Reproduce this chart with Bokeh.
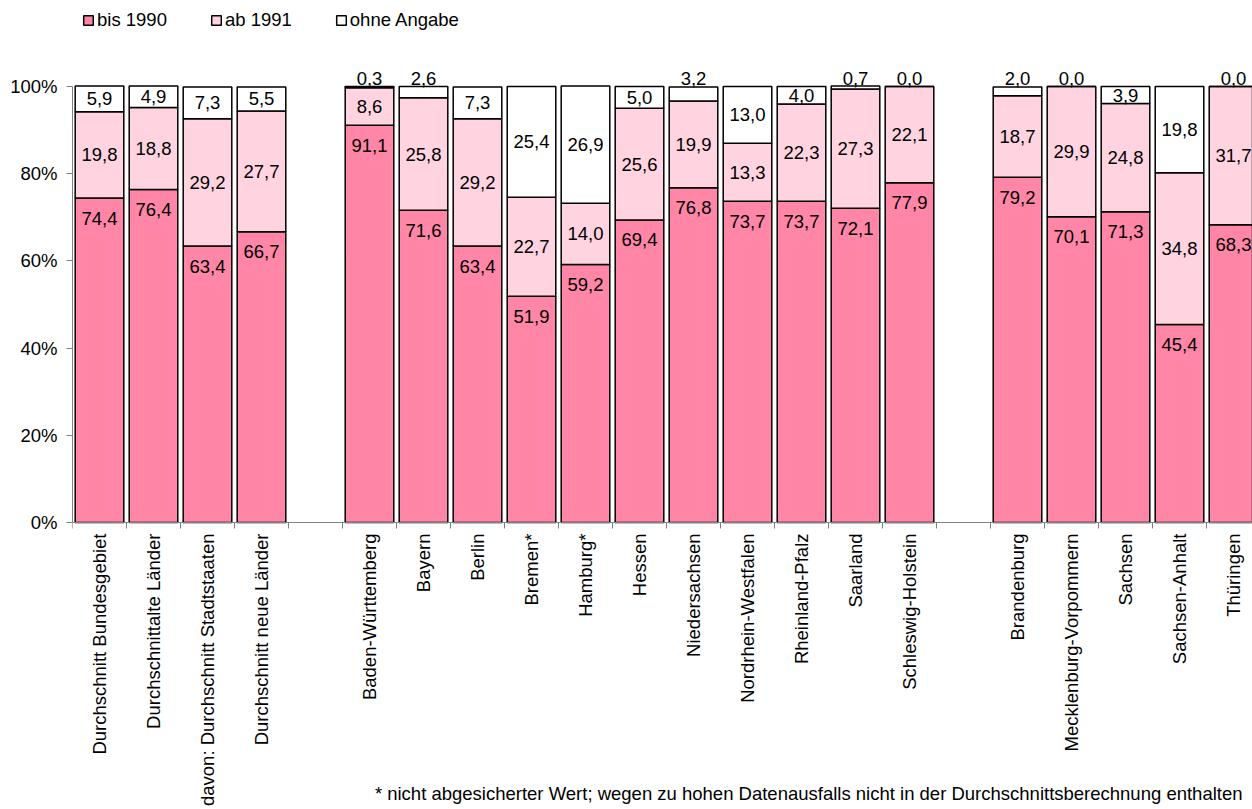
import math
from bokeh.plotting import figure
from bokeh.models import (ColumnDataSource, Range1d, FixedTicker, PrintfTickFormatter,
                          Legend, LegendItem)
from bokeh.core.properties import value
from bokeh.embed import file_html
from bokeh.resources import INLINE

# ---------------- data ----------------
group_avg = ["Durchschnitt Bundesgebiet", "Durchschnittalte Länder",
             "davon: Durchschnitt Stadtstaaten", "Durchschnitt neue Länder"]
group_west = ["Baden-Württemberg", "Bayern", "Berlin", "Bremen*", "Hamburg*", "Hessen",
              "Niedersachsen", "Nordrhein-Westfalen", "Rheinland-Pfalz", "Saarland",
              "Schleswig-Holstein"]
group_east = ["Brandenburg", "Mecklenburg-Vorpommern", "Sachsen", "Sachsen-Anhalt", "Thüringen"]

bis_1990 = [74.4, 76.4, 63.4, 66.7,
            91.1, 71.6, 63.4, 51.9, 59.2, 69.4, 76.8, 73.7, 73.7, 72.1, 77.9,
            79.2, 70.1, 71.3, 45.4, 68.3]
ab_1991 = [19.8, 18.8, 29.2, 27.7,
           8.6, 25.8, 29.2, 22.7, 14.0, 25.6, 19.9, 13.3, 22.3, 27.3, 22.1,
           18.7, 29.9, 24.8, 34.8, 31.7]
ohne_angabe = [5.9, 4.9, 7.3, 5.5,
               0.3, 2.6, 7.3, 25.4, 26.9, 5.0, 3.2, 13.0, 4.0, 0.7, 0.0,
               2.0, 0.0, 3.9, 19.8, 0.0]

y_ticks = [0, 20, 40, 60, 80, 100]
series_labels = ["bis 1990", "ab 1991", "ohne Angabe"]
series_colors = ["#FF86A7", "#FFD4E0", "#FFFFFF"]
footnote = ("* nicht abgesicherter Wert; wegen zu hohen Datenausfalls nicht in der "
            "Durchschnittsberechnung enthalten")

FONT = "Liberation Sans"
FS = "18.5px"

# ---------------- positions (one empty slot between groups) ----------------
groups = [group_avg, group_west, group_east]
names, xs = [], []
for gi, g in enumerate(groups):
    for nm in g:
        xs.append(len(names) + gi)
        names.append(nm)
n_slots = len(names) + len(groups) - 1

def fmt(v):
    return f"{v:.1f}".replace(".", ",")

src = ColumnDataSource(dict(x=xs, bis=bis_1990, ab=ab_1991, ohne=ohne_angabe))

# layout: frame spans page x 72..1252, y 8..809; 0% at y=522, 100% at y=86
PX_PER_UNIT = 4.36
SLOT_PX = 54.0
W, H = 1252, 809
LEFT, TOP = 72, 8
ZERO_Y = 522
p = figure(width=W, height=H, output_backend="svg", toolbar_location=None,
           x_range=Range1d(-0.5, -0.5 + (W - LEFT) / SLOT_PX),
           y_range=Range1d(-(H - ZERO_Y) / PX_PER_UNIT, (ZERO_Y - TOP) / PX_PER_UNIT),
           min_border_left=LEFT, min_border_right=0, min_border_top=TOP, min_border_bottom=0)
p.outline_line_color = None
p.xgrid.visible = False
p.ygrid.visible = False

rs = p.vbar_stack(["bis", "ab", "ohne"], x="x", width=0.9, source=src,
                  fill_color=series_colors, line_color="black", line_width=1.5)

# value labels
lab_bis = dict(x=xs, y=bis_1990, t=[fmt(v) for v in bis_1990])
lab_ab = dict(x=xs, y=[a + b / 2 for a, b in zip(bis_1990, ab_1991)], t=[fmt(v) for v in ab_1991])
in_x, in_y, in_t, out_x, out_y, out_t = [], [], [], [], [], []
for x, a, b, c in zip(xs, bis_1990, ab_1991, ohne_angabe):
    if c >= 3.5:
        in_x.append(x); in_y.append(a + b + c / 2); in_t.append(fmt(c))
    else:
        out_x.append(x); out_y.append(a + b + c); out_t.append(fmt(c))

common = dict(text_font=value(FONT), text_font_size=FS, text_color="black",
              text_align="center", text_baseline="middle")
p.text(x="x", y="y", text="t", source=ColumnDataSource(lab_bis), y_offset=20, **common)
p.text(x="x", y="y", text="t", source=ColumnDataSource(lab_ab), **common)
p.text(x=in_x, y=in_y, text=in_t, **common)
p.text(x=out_x, y=out_y, text=out_t, y_offset=-8, **common)

# footnote
p.text(x=[-0.5 + (1242 - LEFT) / SLOT_PX], y=[0], text=[footnote], y_offset=271,
       text_font=value(FONT), text_font_size=FS, text_color="black",
       text_align="right", text_baseline="middle")

# y axis
p.yaxis.ticker = FixedTicker(ticks=y_ticks)
p.yaxis.formatter = PrintfTickFormatter(format="%d%%")
p.yaxis.bounds = (0, 100)
p.yaxis.axis_line_color = "#808080"
p.yaxis.major_tick_line_color = "#808080"
p.yaxis.major_tick_out = 6
p.yaxis.major_tick_in = 0
p.yaxis.minor_tick_line_color = None
p.yaxis.major_label_standoff = 9
p.yaxis.major_label_text_font = FONT
p.yaxis.major_label_text_font_size = FS
p.yaxis.major_label_text_color = "black"

# x axis placed at 0 inside the frame; ticks at slot boundaries, labels at bar centres
xa = p.xaxis[0]
xa.fixed_location = 0
xa.ticker = FixedTicker(ticks=xs, minor_ticks=[i - 0.5 for i in range(n_slots + 1)])
xa.major_label_overrides = {x: nm for x, nm in zip(xs, names)}
xa.major_label_orientation = math.pi / 2
xa.major_label_standoff = 5
xa.major_label_text_font = FONT
xa.major_label_text_font_size = FS
xa.major_label_text_color = "black"
xa.axis_line_color = "#808080"
xa.minor_tick_line_color = "#808080"
xa.minor_tick_out = 6
xa.minor_tick_in = 0
xa.major_tick_out = 0
xa.major_tick_in = 0

legend = Legend(items=[LegendItem(label=l, renderers=[r]) for l, r in zip(series_labels, rs)],
                orientation="horizontal", location=(10, 778), glyph_width=12, glyph_height=12,
                label_standoff=3, spacing=43, padding=0, margin=0,
                border_line_alpha=0, background_fill_alpha=0,
                label_text_font=FONT, label_text_font_size=FS, label_text_color="black")
p.add_layout(legend)

open("out.html", "w").write(file_html(p, INLINE))
